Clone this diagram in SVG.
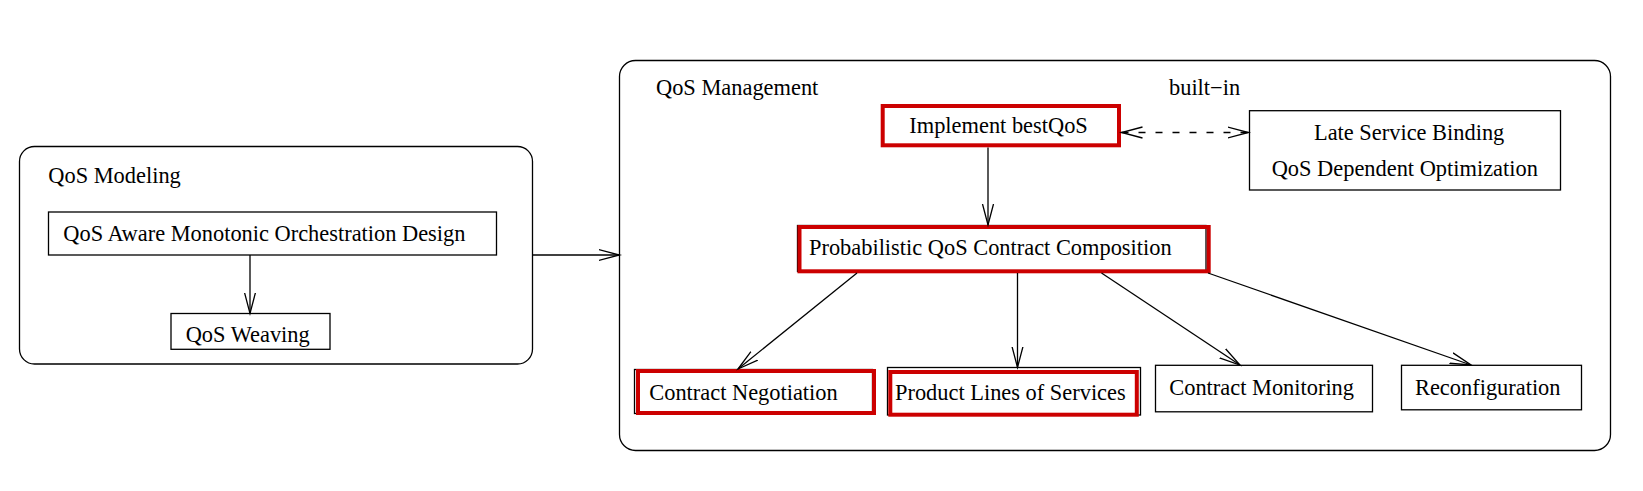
<svg xmlns="http://www.w3.org/2000/svg" width="1643" height="491" viewBox="0 0 1643 491">
<defs>
<style>
text{font-family:"Liberation Serif","Times New Roman",serif;font-size:22.4px;fill:#000}
.box{fill:#fff;stroke:#000;stroke-width:1.3}
.grp{fill:none;stroke:#000;stroke-width:1.3}
.red{fill:none;stroke:#cc0000;stroke-width:4}
.edge{fill:none;stroke:#000;stroke-width:1.3}
.dash{stroke-dasharray:7 10}
</style>
<marker id="ah" markerUnits="userSpaceOnUse" markerWidth="24" markerHeight="14" viewBox="0 0 24 14" refX="21" refY="7" orient="auto-start-reverse">
<path d="M0,1.5 L21,7 L0,12.5" fill="none" stroke="#000" stroke-width="1.3"/>
</marker>
</defs>
<rect width="1643" height="491" fill="#fff"/>
<g id="qos-modeling">
<rect class="grp" x="19.5" y="146.5" width="513" height="217.5" rx="15"/>
<text x="48.3" y="183.3">QoS Modeling</text>
</g>
<g id="qos-management">
<rect class="grp" x="619.5" y="60.5" width="991" height="390" rx="16"/>
<text x="656" y="95">QoS Management</text>
<text x="1169" y="95">built−in</text>
</g>
<g id="design">
<rect class="box" x="48.5" y="212" width="448" height="43"/>
<text x="63.3" y="240.7">QoS Aware Monotonic Orchestration Design</text>
</g>
<g id="weaving">
<rect class="box" x="171" y="313.5" width="159" height="35.8"/>
<text x="185.7" y="341.7">QoS Weaving</text>
</g>
<g id="implement">
<rect class="box" x="882.7" y="106" width="236.3" height="39.3"/>
<rect class="red" x="882.7" y="106" width="236.3" height="39.3"/>
<text x="909.3" y="133.3">Implement bestQoS</text>
</g>
<g id="late-binding">
<rect class="box" x="1249.5" y="110.7" width="311" height="79.3"/>
<text x="1314" y="140">Late Service Binding</text>
<text x="1271.7" y="176">QoS Dependent Optimization</text>
</g>
<g id="probabilistic">
<rect class="box" x="797.5" y="225.5" width="408.5" height="46"/>
<rect class="red" x="799.5" y="227" width="409.2" height="44.3"/>
<text x="809" y="255">Probabilistic QoS Contract Composition</text>
</g>
<g id="negotiation">
<rect class="box" x="634.5" y="369.5" width="238" height="44"/>
<rect class="red" x="638" y="371" width="236" height="42"/>
<text x="649.3" y="400">Contract Negotiation</text>
</g>
<g id="product-lines">
<rect class="box" x="887.5" y="367.5" width="253" height="47.5"/>
<rect class="red" x="890.3" y="372" width="246.5" height="42.7"/>
<text x="895" y="400">Product Lines of Services</text>
</g>
<g id="monitoring">
<rect class="box" x="1155.5" y="365.3" width="217" height="46.5"/>
<text x="1169.3" y="395">Contract Monitoring</text>
</g>
<g id="reconfiguration">
<rect class="box" x="1401.5" y="365.3" width="180" height="44.5"/>
<text x="1415" y="395">Reconfiguration</text>
</g>
<g id="connectors">
<line class="edge" x1="250" y1="255" x2="250" y2="313.5" marker-end="url(#ah)"/>
<line class="edge" x1="532.5" y1="255" x2="619.5" y2="255" marker-end="url(#ah)"/>
<line class="edge" x1="988" y1="147.5" x2="988" y2="225" marker-end="url(#ah)"/>
<line class="edge dash" x1="1121.5" y1="132.5" x2="1248.5" y2="132.5" marker-start="url(#ah)" marker-end="url(#ah)"/>
<line class="edge" x1="857" y1="273" x2="738" y2="369" marker-end="url(#ah)"/>
<line class="edge" x1="1017.5" y1="273" x2="1017.5" y2="367.5" marker-end="url(#ah)"/>
<line class="edge" x1="1101.5" y1="273" x2="1240" y2="365" marker-end="url(#ah)"/>
<line class="edge" x1="1208" y1="273" x2="1471" y2="365" marker-end="url(#ah)"/>
</g>
</svg>
